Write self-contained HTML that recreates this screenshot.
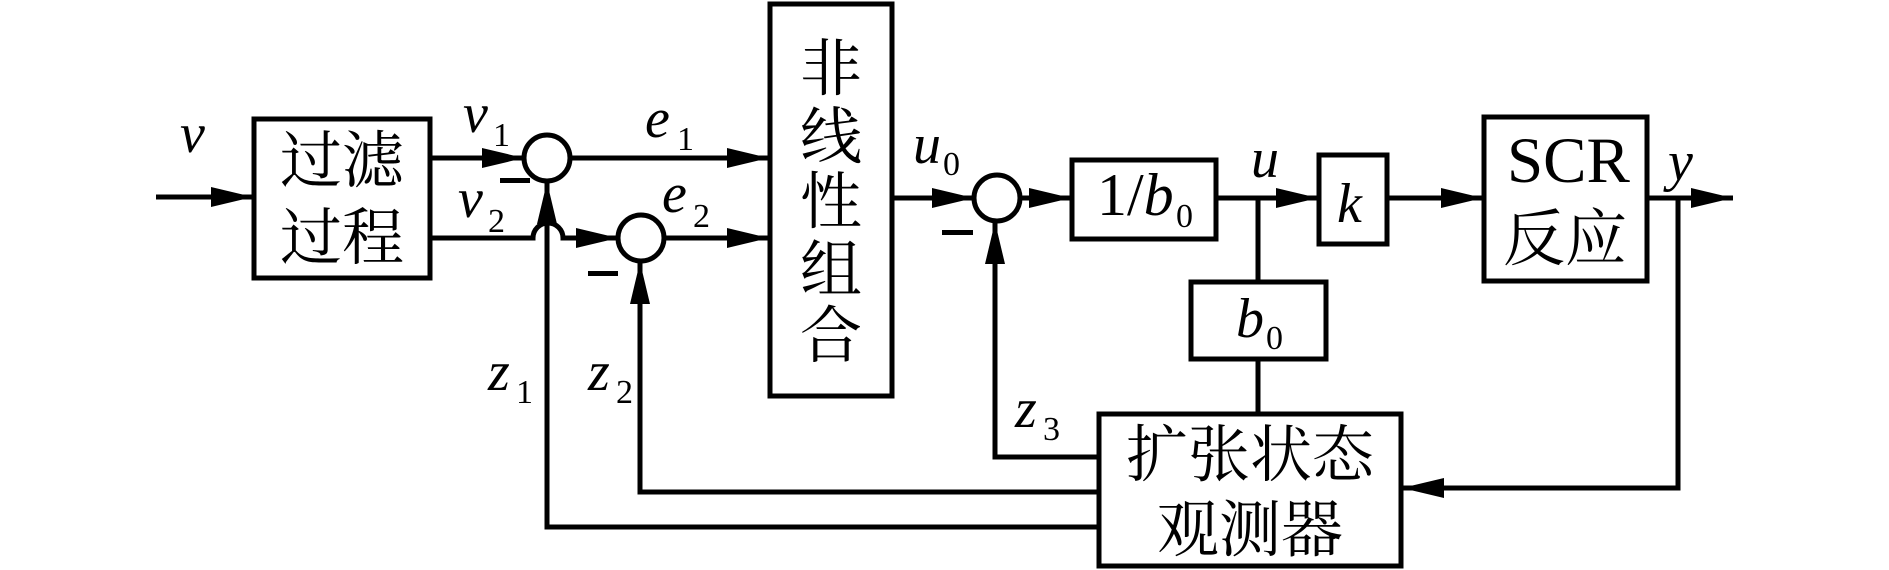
<!DOCTYPE html>
<html><head><meta charset="utf-8"><style>
html,body{margin:0;padding:0;background:#fff;}
svg{display:block;}
.cj{font-family:"Liberation Serif","Noto Serif CJK SC",serif;font-size:62px;fill:#000;}
.it{font-family:"Liberation Serif",serif;font-style:italic;font-size:56px;fill:#000;}
.sb{font-family:"Liberation Serif",serif;font-size:34px;fill:#000;}
.rm{font-family:"Liberation Serif",serif;font-size:62px;fill:#000;}
</style></head><body>
<svg width="1889" height="570" viewBox="0 0 1889 570" xmlns="http://www.w3.org/2000/svg">
<defs>
<marker id="a" markerUnits="userSpaceOnUse" markerWidth="44" markerHeight="20" refX="42" refY="10" orient="auto">
<path d="M0,0 L42,10 L0,20 Z" fill="#000"/></marker>
</defs>
<g stroke="#000" stroke-width="5" fill="none">
<!-- boxes -->
<rect x="254" y="119" width="176" height="159"/>
<rect x="770" y="4" width="122" height="392"/>
<rect x="1072" y="160" width="144" height="79"/>
<rect x="1319" y="155" width="68" height="89"/>
<rect x="1484" y="117" width="163" height="164"/>
<rect x="1191" y="282" width="135" height="77"/>
<rect x="1099" y="414" width="302" height="152"/>
<!-- circles -->
<circle cx="547" cy="158" r="23"/>
<circle cx="641" cy="238" r="23"/>
<circle cx="997" cy="198" r="23"/>
<!-- forward lines -->
<line x1="156" y1="197" x2="253" y2="197" marker-end="url(#a)"/>
<line x1="430" y1="158" x2="524" y2="158" marker-end="url(#a)"/>
<path d="M430,238 H533 A15,15 0 0 1 563,238 H618" marker-end="url(#a)"/>
<line x1="570" y1="158" x2="769" y2="158" marker-end="url(#a)"/>
<line x1="664" y1="238" x2="769" y2="238" marker-end="url(#a)"/>
<line x1="892" y1="198" x2="974" y2="198" marker-end="url(#a)"/>
<line x1="1020" y1="198" x2="1071" y2="198" marker-end="url(#a)"/>
<line x1="1216" y1="198" x2="1318" y2="198" marker-end="url(#a)"/>
<line x1="1387" y1="198" x2="1483" y2="198" marker-end="url(#a)"/>
<line x1="1647" y1="198" x2="1733" y2="198" marker-end="url(#a)"/>
<!-- u branch -->
<line x1="1258" y1="198" x2="1258" y2="282"/>
<line x1="1258" y1="359" x2="1258" y2="414"/>
<!-- y feedback -->
<polyline points="1678,198 1678,488 1402,488" marker-end="url(#a)"/>
<!-- z feedback -->
<polyline points="1099,457 995,457 995,222" marker-end="url(#a)"/>
<polyline points="1099,492 640,492 640,262" marker-end="url(#a)"/>
<polyline points="1099,527 547,527 547,182" marker-end="url(#a)"/>
</g>
<!-- minus signs -->
<rect x="500" y="178" width="30" height="5" fill="#000"/>
<rect x="588" y="271" width="30" height="5" fill="#000"/>
<rect x="942" y="230" width="31" height="5" fill="#000"/>
<!-- Chinese text -->
<text class="cj" x="342" y="182" text-anchor="middle">过滤</text>
<text class="cj" x="342" y="259" text-anchor="middle">过程</text>
<g class="cj" text-anchor="middle">
<text x="831" y="90">非</text>
<text x="831" y="158">线</text>
<text x="831" y="223">性</text>
<text x="831" y="291">组</text>
<text x="831" y="357">合</text>
</g>
<text class="cj" x="1565" y="260" text-anchor="middle">反应</text>
<text class="rm" x="1507" y="182" style="font-size:65px">SCR</text>
<text class="cj" x="1250" y="476" text-anchor="middle">扩张状态</text>
<text class="cj" x="1250" y="551" text-anchor="middle">观测器</text>
<!-- math labels -->
<text class="it" x="180" y="152">v</text>
<text class="it" x="463" y="132">v</text><text class="sb" x="493" y="146">1</text>
<text class="it" x="458" y="217">v</text><text class="sb" x="488" y="232">2</text>
<text class="it" x="645" y="137">e</text><text class="sb" x="677" y="150">1</text>
<text class="it" x="662" y="212">e</text><text class="sb" x="693" y="227">2</text>
<text class="it" x="488" y="390">z</text><text class="sb" x="516" y="403">1</text>
<text class="it" x="588" y="390">z</text><text class="sb" x="616" y="403">2</text>
<text class="it" x="1015" y="427">z</text><text class="sb" x="1043" y="440">3</text>
<text class="it" x="913" y="163">u</text><text class="sb" x="943" y="175">0</text>
<text class="it" x="1251" y="177">u</text>
<text class="it" x="1337" y="222">k</text>
<text class="it" x="1668" y="180">y</text>
<text class="rm" x="1097" y="215" style="font-size:60px">1/<tspan font-style="italic">b</tspan></text>
<text class="sb" x="1176" y="227">0</text>
<text class="it" x="1236" y="337">b</text><text class="sb" x="1266" y="349">0</text>
</svg>
</body></html>
